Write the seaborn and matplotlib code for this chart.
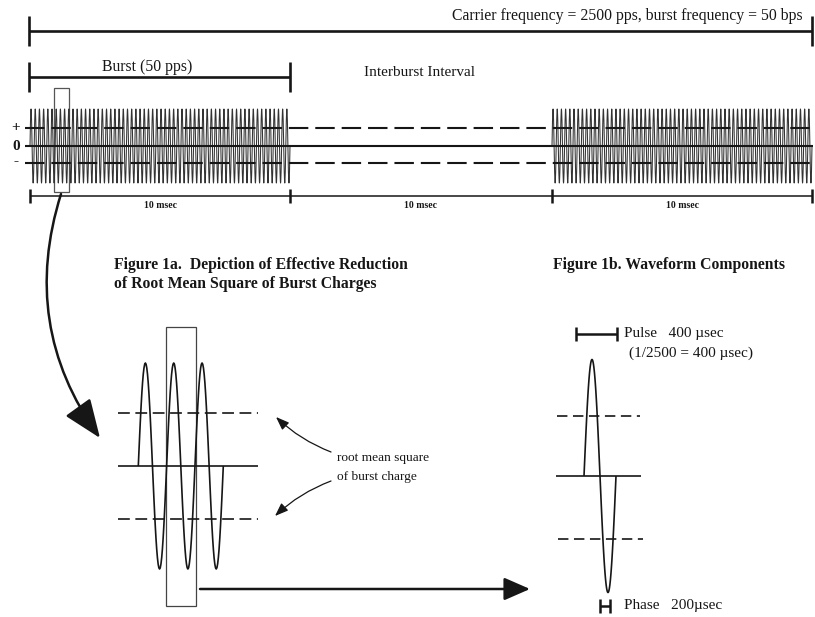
import numpy as np
import pandas as pd
import matplotlib.pyplot as plt
import seaborn as sns
from matplotlib.patches import FancyArrowPatch, Rectangle

# --- values shown in the diagram ---
carrier_pps = 2500
burst_bps = 50
segment_names = ["Burst", "Interburst", "Burst"]
segment_ms = [10, 10, 10]
segment_labels = ["10 msec", "10 msec", "10 msec"]
level_labels = ["+", "0", "-"]
burst_cycles = 62        # spikes drawn inside one burst
zoom_cycles = 3          # cycles in figure 1a
pulse_cycles = 1         # one pulse in figure 1b
pulse_usec = 400
phase_usec = 200

sns.set_theme(style="white")
plt.rcParams.update({
    'lines.scale_dashes': False,
    'lines.solid_capstyle': 'butt',
})
plt.rcParams['font.family'] = ['Liberation Serif', 'DejaVu Serif']

INK = "#161616"

fig = plt.figure(figsize=(8.15, 6.17), dpi=100)
ax = fig.add_axes([0, 0, 1, 1])


def wave(x0, x1, n_cycles, yc, amp, pts=40):
    x = np.linspace(x0, x1, int(n_cycles * pts) + 1)
    y = yc - amp * np.sin(2 * np.pi * n_cycles * (x - x0) / (x1 - x0))
    return pd.DataFrame({"x": x, "y": y})


def hline(x0, x1, y, lw=1.2, dashes=None, color=INK):
    line, = ax.plot([x0, x1], [y, y], color=color, lw=lw)
    if dashes:
        line.set_dashes(dashes)


def bracket(x0, x1, y, h, lw=1.8):
    ax.plot([x0, x1], [y, y], color=INK, lw=lw)
    for xx in (x0, x1):
        ax.plot([xx, xx], [y - h, y + h], color=INK, lw=lw)


# --- top brackets ---
bracket(29, 812, 31, 15, lw=1.9)
ax.text(803, 16, f"Carrier frequency = {carrier_pps} pps, burst frequency = {burst_bps} bps",
        ha="right", va="center", fontsize=11.3, color=INK)
bracket(29, 290, 77, 15, lw=1.9)
ax.text(147, 67, f"{segment_names[0]} ({burst_bps} pps)", ha="center", va="center",
        fontsize=11.3, color=INK)
ax.text(420, 72, f"{segment_names[1]} Interval", ha="center", va="center",
        fontsize=11, color=INK)

# --- burst train ---
seg_edges = [30, 290, 552, 812]
for i, name in enumerate(segment_names):
    if name == "Burst":
        df = wave(seg_edges[i], seg_edges[i + 1], burst_cycles, 146, 37, pts=24)
        sns.lineplot(data=df, x="x", y="y", ax=ax, estimator=None, sort=False,
                     color="#333333", lw=0.75)
hline(25, 813, 146, lw=1.5)
hline(25, 813, 128, lw=1.5, dashes=(14, 5))
hline(25, 813, 163, lw=1.5, dashes=(14, 5))
for lab, yy in zip(level_labels, [128, 146, 162]):
    ax.text(16, yy, lab, ha="center", va="center", fontsize=11, fontweight="bold", color=INK)

ax.add_patch(Rectangle((54, 88), 15, 104, fill=False, ec="#555555", lw=0.9))

# time axis
ax.plot([seg_edges[0], seg_edges[-1]], [196, 196], color=INK, lw=1.1)
for xx in seg_edges:
    ax.plot([xx, xx], [189, 203], color=INK, lw=1.8)
for i, lab in enumerate(segment_labels):
    ax.text((seg_edges[i] + seg_edges[i + 1]) / 2, 206, lab, ha="center", va="center",
            fontsize=7, fontweight="bold", color=INK)

# curved arrow down to figure 1a
ax.add_patch(FancyArrowPatch((61, 194), (100, 438), connectionstyle="arc3,rad=0.25",
                             arrowstyle="-|>,head_length=2.4,head_width=0.95",
                             mutation_scale=10, lw=1.8, color=INK,
                             shrinkA=0, shrinkB=0))

# --- titles ---
ax.text(114, 265, "Figure 1a.  Depiction of Effective Reduction", ha="left", va="center",
        fontsize=11.3, fontweight="bold", color=INK)
ax.text(114, 284, "of Root Mean Square of Burst Charges", ha="left", va="center",
        fontsize=11.3, fontweight="bold", color=INK)
ax.text(553, 265, "Figure 1b. Waveform Components", ha="left", va="center",
        fontsize=11.3, fontweight="bold", color=INK)

# --- figure 1a: zoomed burst ---
df = wave(138.3, 223.3, zoom_cycles, 466, 103)
sns.lineplot(data=df, x="x", y="y", ax=ax, estimator=None, sort=False, color=INK, lw=1.2)
hline(118, 258, 466, lw=1.2)
hline(118, 258, 413, lw=1.2, dashes=(8.5, 4))
hline(118, 258, 519, lw=1.2, dashes=(8.5, 4))
ax.add_patch(Rectangle((166, 327), 30, 279, fill=False, ec="#444444", lw=0.9))

ax.text(337, 458, "root mean square", ha="left", va="center", fontsize=9.6, color=INK)
ax.text(337, 477, "of burst charge", ha="left", va="center", fontsize=9.6, color=INK)
ax.add_patch(FancyArrowPatch((331, 452), (276, 417), connectionstyle="arc3,rad=-0.1",
                             arrowstyle="-|>,head_length=0.8,head_width=0.3",
                             mutation_scale=10, lw=0.9, color=INK, shrinkA=0, shrinkB=0))
ax.add_patch(FancyArrowPatch((331, 481), (275, 516), connectionstyle="arc3,rad=0.1",
                             arrowstyle="-|>,head_length=0.8,head_width=0.3",
                             mutation_scale=10, lw=0.9, color=INK, shrinkA=0, shrinkB=0))

# horizontal arrow to figure 1b
ax.add_patch(FancyArrowPatch((200, 589), (530, 589), arrowstyle="-|>,head_length=1.6,head_width=0.7",
                             mutation_scale=10, lw=1.8, color=INK, shrinkA=0, shrinkB=0))

# --- figure 1b: single pulse ---
df = wave(584, 616, pulse_cycles, 476, 116.5, pts=120)
sns.lineplot(data=df, x="x", y="y", ax=ax, estimator=None, sort=False, color=INK, lw=1.2)
hline(556, 641, 476, lw=1.2)
hline(557, 640, 416, lw=1.2, dashes=(7.5, 4))
hline(558, 643, 539, lw=1.2, dashes=(7.5, 4))

bracket(576, 617, 334, 7, lw=1.8)
ax.text(624, 334, f"Pulse   {pulse_usec} \u00b5sec", ha="left", va="center", fontsize=11, color=INK)
ax.text(629, 353, f"(1/{carrier_pps} = {pulse_usec} \u00b5sec)", ha="left", va="center",
        fontsize=11, color=INK)
bracket(600, 610, 606, 7, lw=1.8)
ax.text(624, 606, f"Phase   {phase_usec}\u00b5sec", ha="left", va="center", fontsize=11, color=INK)

ax.set_xlim(0, 815)
ax.set_ylim(617, 0)
ax.set_axis_off()
fig.savefig("out.png", dpi=100, facecolor="white")
